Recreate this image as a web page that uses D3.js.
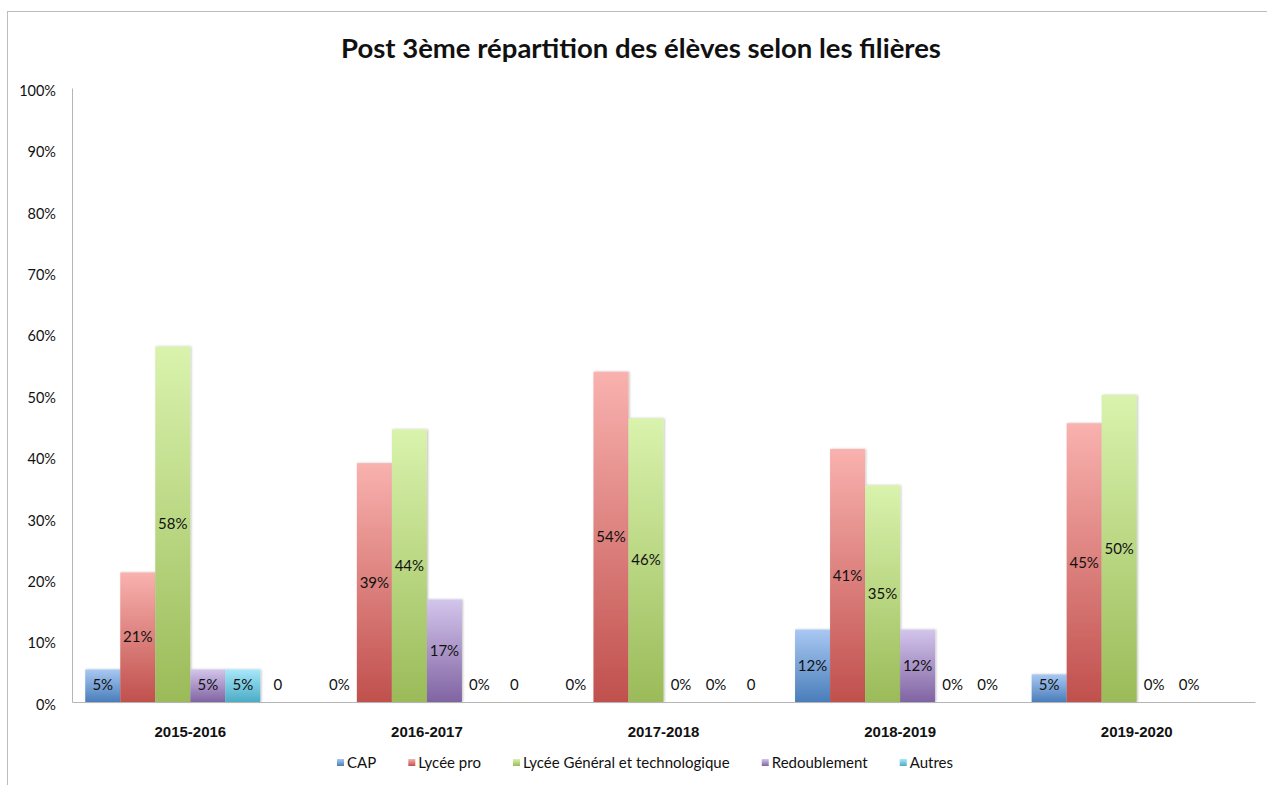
<!DOCTYPE html>
<html>
<head>
<meta charset="utf-8">
<script src="https://cdn.jsdelivr.net/npm/d3@7"></script>
<style>
  body { margin: 0; background: #fff; }
  text { fill: #111; }
</style>
</head>
<body>
<svg id="chart"></svg>
<script>
// Données
const years = ['2015-2016', '2016-2017', '2017-2018', '2018-2019', '2019-2020'];
const series = ['CAP', 'Lycée pro', 'Lycée Général et technologique', 'Redoublement', 'Autres', ''];
const cap = [5.3, 0, 0, 11.8, 4.5];
const lyceePro = [21.1, 38.9, 53.8, 41.2, 45.4];
const lyceeGT = [57.9, 44.4, 46.2, 35.3, 50.0];
const redoublement = [5.3, 16.7, 0, 11.8, 0];
const autres = [5.3, 0, 0, 0, 0];
const sansNom = [0, 0, 0, 0, null];
const sansNomLabels = ['0', '0', '0', '0%', ''];
const yTicks = [0, 10, 20, 30, 40, 50, 60, 70, 80, 90, 100];

const values = [cap, lyceePro, lyceeGT, redoublement, autres, sansNom];

// couleurs dégradé (haut, bas)
const colors = [
    ['#a9c8f2', '#4a7ebb'],
    ['#f9b2af', '#c0504d'],
    ['#d9f3ad', '#9bbb59'],
    ['#d3c5ec', '#8064a2'],
    ['#a8e8fa', '#4bacc6'],
    ['#cccccc', '#999999']
];

const width = 1267;
const height = 785;
const margin = { left: 72, right: 12, top: 88, bottom: 83 };

const svg = d3.select('#chart')
    .attr('width', width)
    .attr('height', height);

const defs = svg.append('defs');
colors.forEach((c, i) => {
    const g = defs.append('linearGradient')
        .attr('id', 'grad' + i)
        .attr('x1', 0).attr('y1', 0).attr('x2', 0).attr('y2', 1);
    g.append('stop').attr('offset', '0%').attr('stop-color', c[0]);
    g.append('stop').attr('offset', '100%').attr('stop-color', c[1]);
});
defs.append('filter').attr('id', 'shadow')
    .attr('x', '-20%').attr('y', '-5%').attr('width', '140%').attr('height', '110%')
    .append('feDropShadow')
    .attr('dx', 1).attr('dy', 0).attr('stdDeviation', 1)
    .attr('flood-color', '#000').attr('flood-opacity', 0.25);

// cadre
svg.append('rect')
    .attr('x', 7.5).attr('y', 11.5)
    .attr('width', 1300).attr('height', 800)
    .attr('fill', 'none')
    .attr('stroke', '#bdbdbd');

// Titre
svg.append('text')
    .attr('x', 641)
    .attr('y', 58)
    .attr('text-anchor', 'middle')
    .style('font-family', 'Lato, sans-serif')
    .style('font-weight', 'bold')
    .style('font-size', '27.5px')
    .text('Post 3ème répartition des élèves selon les filières');

// Echelles
const x0 = d3.scaleBand()
    .domain(years)
    .range([margin.left, width - margin.right])
    .paddingInner(0.112)
    .paddingOuter(0.056);

const x1 = d3.scaleBand()
    .domain(d3.range(series.length))
    .range([0, x0.bandwidth()]);

const y = d3.scaleLinear()
    .domain([0, 100])
    .range([height - margin.bottom, margin.top]);

// Axe Y
const yAxis = svg.append('g')
    .attr('transform', `translate(${margin.left},0)`)
    .call(d3.axisLeft(y).tickValues(yTicks).tickSize(0).tickPadding(16).tickFormat(d => d + '%'));
yAxis.select('.domain').attr('stroke', '#b5b5b5');
yAxis.selectAll('text')
    .attr('dy', '0.5em')
    .style('font-family', 'Lato, sans-serif')
    .style('font-size', '14.5px')
    .attr('fill', '#111');

// Barres
const groups = svg.append('g')
    .selectAll('g')
    .data(years)
    .enter().append('g')
    .attr('transform', d => `translate(${x0(d)},0)`);

groups.each(function (year, gi) {
    const g = d3.select(this);
    values.forEach((vals, si) => {
        const v = vals[gi];
        if (v === null) return;
        if (v > 0) {
            g.append('rect')
                .attr('x', x1(si))
                .attr('y', y(v))
                .attr('width', x1.bandwidth())
                .attr('height', y(0) - y(v))
                .attr('fill', `url(#grad${si})`)
                .attr('filter', 'url(#shadow)');
        }
    });
});

// Axe X
const xAxis = svg.append('g')
    .attr('transform', `translate(0,${y(0)})`)
    .call(d3.axisBottom(x0).tickSize(0).tickPadding(24));
xAxis.select('.domain').attr('stroke', '#b5b5b5');
xAxis.selectAll('text')
    .style('font-family', '"Liberation Sans", Arial, sans-serif')
    .style('font-weight', 'bold')
    .style('font-size', '15px')
    .attr('fill', '#111');

// Etiquettes
groups.each(function (year, gi) {
    const g = d3.select(this);
    values.forEach((vals, si) => {
        const v = vals[gi];
        if (v === null) return;
        const label = si === 5 ? sansNomLabels[gi] : Math.round(v) + '%';
        const mid = (y(v) + y(0)) / 2;
        g.append('text')
            .attr('x', x1(si) + x1.bandwidth() / 2)
            .attr('y', Math.min(mid, y(0) - 17))
            .attr('dy', '0.35em')
            .attr('text-anchor', 'middle')
            .style('font-family', 'Lato, sans-serif')
            .style('font-size', '15px')
            .attr('fill', '#111')
            .text(label);
    });
});

// Légende
const legend = svg.append('g').attr('transform', 'translate(0,763)');
const items = legend.selectAll('g')
    .data(series.slice(0, 5))
    .enter().append('g');
items.append('rect')
    .attr('y', -4)
    .attr('width', 7)
    .attr('height', 7)
    .attr('fill', (d, i) => `url(#grad${i})`);
items.append('text')
    .attr('x', 10)
    .attr('dy', '0.35em')
    .style('font-family', 'Lato, sans-serif')
    .style('font-size', '15px')
    .attr('fill', '#111')
    .text(d => d);

const legendStart = 337;
const legendWidth = 616;
const lens = [];
items.each(function () {
    lens.push(10 + d3.select(this).select('text').node().getComputedTextLength());
});
const gap = (legendWidth - d3.sum(lens)) / (lens.length - 1);
const offsets = [];
let pos = legendStart;
lens.forEach(l => { offsets.push(pos); pos += l + gap; });
items.attr('transform', (d, i) => `translate(${offsets[i]},0)`);
</script>
</body>
</html>
